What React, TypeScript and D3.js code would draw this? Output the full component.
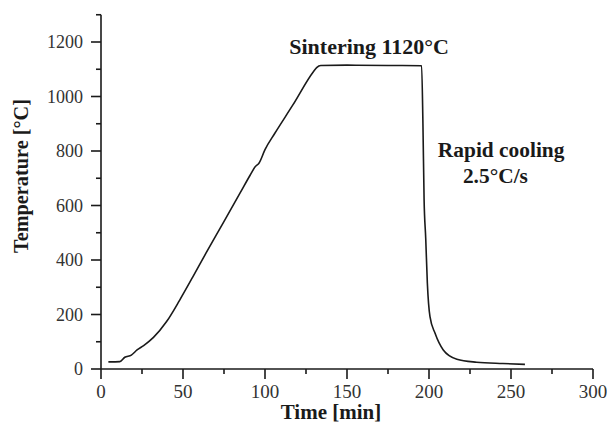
import React, { useEffect, useRef } from "react";
import * as d3 from "d3";

const timeMin = [4.5, 11.5, 14.5, 18.5, 22, 26, 32, 40, 48, 56, 64, 74.6, 85, 91, 94, 96.3, 100, 106, 117, 129.5, 131.5, 134, 150, 175, 195.5, 196.3, 197, 198, 199, 200.6, 203.7, 208.7, 217, 229, 245, 258.5];
const tempC = [26, 27, 43, 51, 70, 86, 116, 174, 253, 338, 425, 537, 648, 712, 742, 755, 805, 865, 969, 1091, 1106, 1114, 1115, 1114, 1113, 900, 624, 480, 315, 192, 131, 70, 36, 25, 20, 17];

const xMajorTicks = [0, 50, 100, 150, 200, 250, 300];
const xMinorTicks = [25, 75, 125, 175, 225, 275];
const yMajorTicks = [0, 200, 400, 600, 800, 1000, 1200];
const yMinorTicks = [100, 300, 500, 700, 900, 1100, 1300];

const annotations = [
  { text: "Sintering 1120°C", t: 163.5, T: 1157, size: 22 },
  { text: "Rapid cooling", t: 244, T: 778, size: 21.4 },
  { text: "2.5°C/s", t: 240.5, T: 683, size: 21.4 },
];

const W = 607;
const H = 436;
const serif = "'Liberation Serif', 'Times New Roman', serif";

export default function App() {
  const ref = useRef<SVGSVGElement>(null);

  useEffect(() => {
    const svg = d3.select(ref.current);
    svg.selectAll("*").remove();

    const x = d3.scaleLinear().domain([0, 300]).range([101, 593]);
    const y = d3.scaleLinear().domain([0, 1300]).range([369, 14.75]);
    const ink = "#1a1a1a";

    // X axis
    const gx = svg.append("g");
    gx.append("line").attr("x1", x(0)).attr("x2", x(300)).attr("y1", y(0)).attr("y2", y(0))
      .attr("stroke", ink).attr("stroke-width", 1.6);
    xMajorTicks.forEach((v) => {
      gx.append("line").attr("x1", x(v)).attr("x2", x(v)).attr("y1", y(0)).attr("y2", y(0) + 10)
        .attr("stroke", ink).attr("stroke-width", 1.6);
      gx.append("text").attr("x", x(v)).attr("y", 398).attr("text-anchor", "middle")
        .attr("font-family", serif).attr("font-size", 19).attr("fill", "#333").text(String(v));
    });
    xMinorTicks.forEach((v) => {
      gx.append("line").attr("x1", x(v)).attr("x2", x(v)).attr("y1", y(0)).attr("y2", y(0) + 5)
        .attr("stroke", ink).attr("stroke-width", 1.6);
    });

    // Y axis
    const gy = svg.append("g");
    gy.append("line").attr("x1", x(0)).attr("x2", x(0)).attr("y1", y(0)).attr("y2", y(1300))
      .attr("stroke", ink).attr("stroke-width", 1.6);
    yMajorTicks.forEach((v) => {
      gy.append("line").attr("x1", x(0) - 10).attr("x2", x(0)).attr("y1", y(v)).attr("y2", y(v))
        .attr("stroke", ink).attr("stroke-width", 1.6);
      gy.append("text").attr("x", 83).attr("y", y(v)).attr("dy", "0.35em").attr("text-anchor", "end")
        .attr("font-family", serif).attr("font-size", 18).attr("fill", "#333").text(String(v));
    });
    yMinorTicks.forEach((v) => {
      gy.append("line").attr("x1", x(0) - 5).attr("x2", x(0)).attr("y1", y(v)).attr("y2", y(v))
        .attr("stroke", ink).attr("stroke-width", 1.6);
    });

    // Axis titles
    svg.append("text").attr("x", 331).attr("y", 419).attr("text-anchor", "middle")
      .attr("font-family", serif).attr("font-weight", "bold").attr("font-size", 21).attr("fill", ink)
      .text("Time [min]");
    svg.append("text").attr("transform", "translate(28,176) rotate(-90)").attr("text-anchor", "middle")
      .attr("font-family", serif).attr("font-weight", "bold").attr("font-size", 20.3).attr("fill", ink)
      .text("Temperature [°C]");

    // Curve
    const data = timeMin.map((t, i) => [t, tempC[i]] as [number, number]);
    const line = d3.line<[number, number]>().x((d) => x(d[0])).y((d) => y(d[1])).curve(d3.curveMonotoneX);
    svg.append("path").datum(data).attr("d", line).attr("fill", "none").attr("stroke", ink)
      .attr("stroke-width", 1.6);

    // Annotations
    annotations.forEach((a) => {
      svg.append("text").attr("x", x(a.t)).attr("y", y(a.T)).attr("text-anchor", "middle")
        .attr("font-family", serif).attr("font-weight", "bold").attr("font-size", a.size).attr("fill", ink)
        .text(a.text);
    });
  }, []);

  return (
    <>
      <style>{`body{margin:0;background:#fff}`}</style>
      <svg ref={ref} width={W} height={H} style={{ display: "block" }} />
    </>
  );
}
